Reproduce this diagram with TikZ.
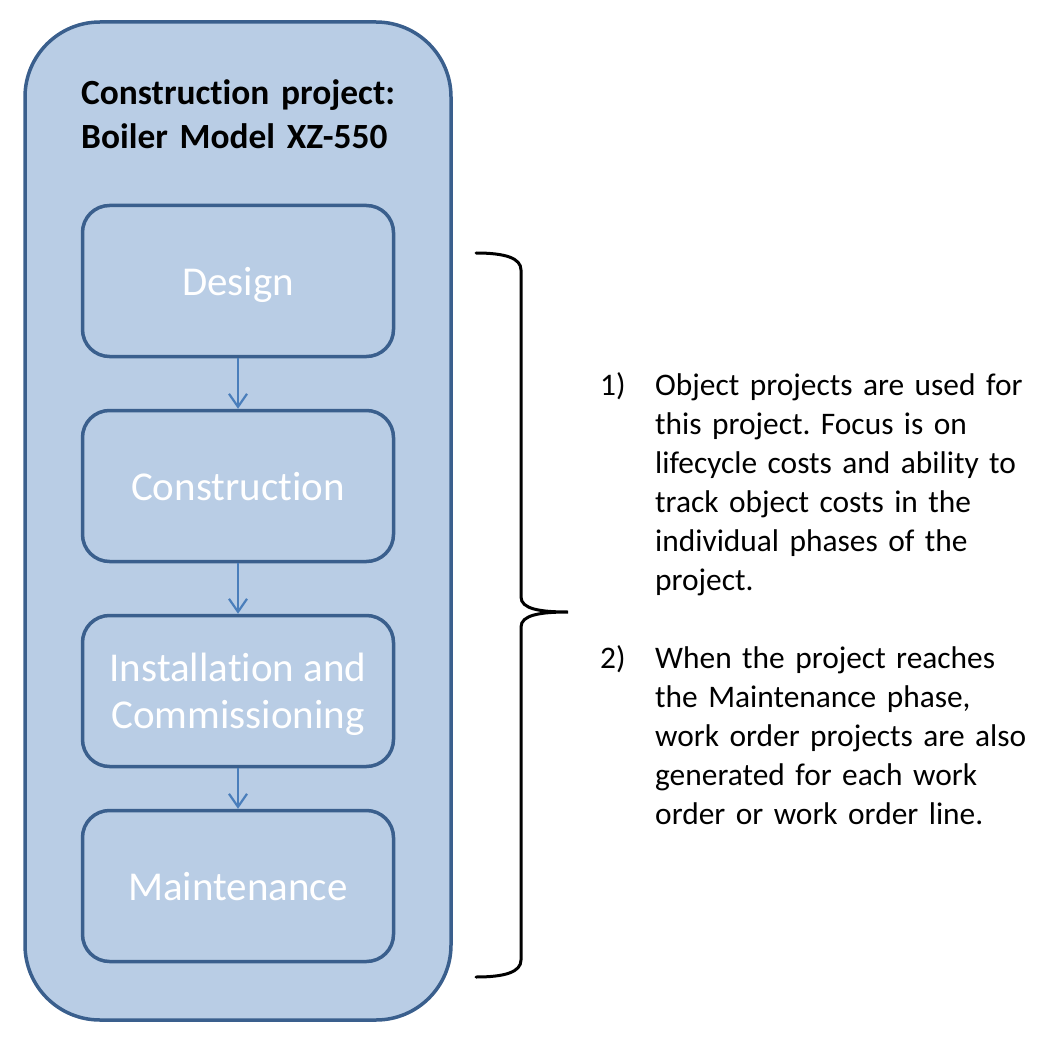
\documentclass[tikz,border=0pt]{standalone}
\usepackage{fontspec}
\setmainfont{Carlito}[Ligatures=NoCommon]
\usepackage{tikz}
\usetikzlibrary{arrows.meta,positioning}
\frenchspacing

\definecolor{boxfill}{HTML}{B9CDE5}
\definecolor{boxline}{HTML}{3A5F8D}
\definecolor{flowline}{HTML}{4A7EBB}

\tikzset{
  frame/.style={draw=boxline, fill=boxfill, line width=3.5pt, rounded corners=75pt,
    minimum width=426pt, minimum height=998pt, inner sep=0pt},
  phase/.style={draw=boxline, fill=boxfill, line width=3.5pt, rounded corners=27pt,
    minimum width=311pt, minimum height=151pt, inner sep=0pt, text=white, align=center,
    text depth=0pt, font=\fontsize{41}{47}\selectfont},
  flow/.style={draw=flowline, line width=2.2pt, -{Straight Barb[length=13pt,width=18pt,line width=2.2pt]}},
  brace/.style={draw=black, line width=3pt, line cap=round},
  itemtext/.style={inner sep=0pt, anchor=base west, text width=400pt, align=left,
    font=\fontsize{31.4}{39}\selectfont}
}

\begin{document}
\begin{tikzpicture}[x=1pt, y=-1pt]
\useasboundingbox (0,0) rectangle (1062,1048);
\node[frame] (project) at (238,521) {};
\node[inner sep=0pt, anchor=base west, text width=360pt, align=left, font=\fontsize{35.4}{44}\selectfont\bfseries] (title) at (81,105) {Construction project:\\ Boiler Model XZ-550};
\node[phase] (design) at (238,281) {Design};
\node[phase, below=50.5pt of design] (constr) {Construction};
\node[phase, below=50.5pt of constr] (install) {Installation and\\ Commissioning};
\node[phase, below=40.5pt of install] (maint) {Maintenance};
\draw[flow] (design) -- (constr);
\draw[flow] (constr) -- (install);
\draw[flow] (install) -- (maint);
% brace
\coordinate (btop) at (476,253);
\coordinate (bmid) at (568,612);
\coordinate (bbot) at (476,977);
\draw[brace] (btop) .. controls (505,253) and (521,258) .. (521,270) -- (521,597)
  .. controls (521,609) and (540,612) .. (bmid)
  .. controls (540,612) and (521,615) .. (521,627) -- (521,960)
  .. controls (521,972) and (505,977) .. (bbot);
% notes
\node[itemtext, text width=50pt] (num1) at (600,395) {1)};
\node[itemtext] (note1) at (655,395) {Object projects are used for\\ this project. Focus is on\\ lifecycle costs and ability to\\ track object costs in the\\ individual phases of the\\ project.};
\node[itemtext, text width=50pt] (num2) at (600,668) {2)};
\node[itemtext] (note2) at (655,668) {When the project reaches\\ the Maintenance phase,\\ work order projects are also\\ generated for each work\\ order or work order line.};
\end{tikzpicture}
\end{document}
